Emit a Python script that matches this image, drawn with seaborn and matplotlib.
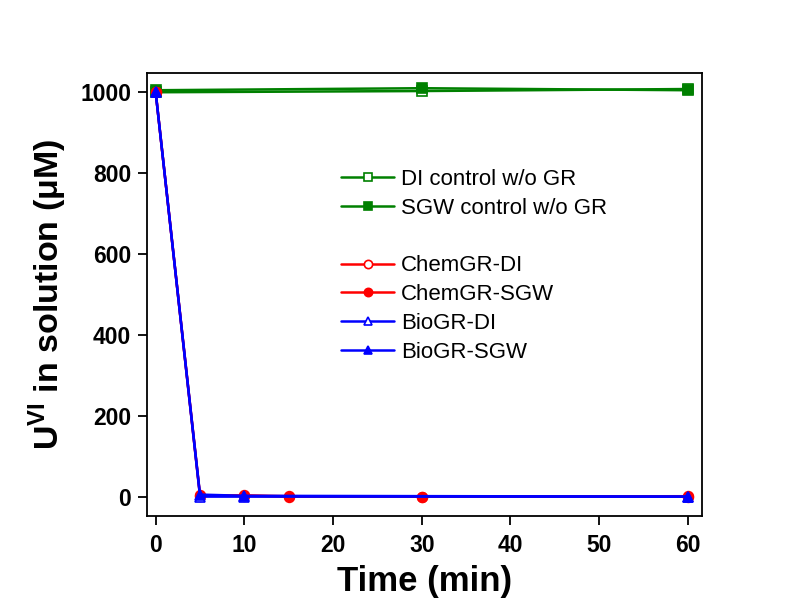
import matplotlib
matplotlib.use("Agg")
import matplotlib.pyplot as plt
from matplotlib.lines import Line2D
import seaborn as sns

# Time points (min) and U(VI) concentrations (µM)
t_ctrl = [0, 30, 60]
di_ctrl = [1000, 1003, 1008]
sgw_ctrl = [1005, 1010, 1005]

t_chem = [0, 5, 10, 15, 30, 60]
chem_di = [1000, 3, 2, 0, 0, 0]
chem_sgw = [1000, 2, 3, 1, 0, 1]

t_bio = [0, 5, 10, 60]
bio_di = [1000, 0, 0, 0]
bio_sgw = [1000, 5, 2, 0]

x_ticks = [0, 10, 20, 30, 40, 50, 60]
y_ticks = [0, 200, 400, 600, 800, 1000]

sns.set_theme(style="ticks")
plt.rcParams["font.family"] = ["Liberation Sans", "DejaVu Sans"]
plt.rcParams["mathtext.fontset"] = "custom"
plt.rcParams["mathtext.rm"] = "Liberation Sans"
plt.rcParams["mathtext.bf"] = "Liberation Sans:bold"
for key in ("text.color", "axes.labelcolor", "xtick.color", "ytick.color",
            "axes.edgecolor"):
    plt.rcParams[key] = "black"

fig = plt.figure(figsize=(7.98, 6.13), dpi=100)
ax = fig.add_axes([0.1842, 0.1582, 0.6955, 0.7227])

green, red, blue = "#008000", "#ff0000", "#0000ff"
lw, ms = 1.8, 7

series = [
    (t_ctrl, di_ctrl, "DI control w/o GR", green, "s", "white"),
    (t_ctrl, sgw_ctrl, "SGW control w/o GR", green, "s", green),
    (t_chem, chem_di, "ChemGR-DI", red, "o", "white"),
    (t_chem, chem_sgw, "ChemGR-SGW", red, "o", red),
    (t_bio, bio_di, "BioGR-DI", blue, "^", "white"),
    (t_bio, bio_sgw, "BioGR-SGW", blue, "^", blue),
]
for x, y, lab, c, m, fc in series:
    sns.lineplot(x=x, y=y, ax=ax, color=c, marker=m, markersize=ms,
                 markerfacecolor=fc, markeredgecolor=c, markeredgewidth=1.2,
                 linewidth=lw, label=lab)

ax.set_xlim(-0.98, 61.6)
ax.set_ylim(-48, 1047.6)
ax.set_xticks(x_ticks)
ax.set_yticks(y_ticks)
ax.tick_params(axis="both", direction="out", length=6.5, width=1.3,
               labelsize=16.5, top=False, right=False)
ax.tick_params(axis="x", pad=6.5)
ax.tick_params(axis="y", pad=5)
for lbl in ax.get_xticklabels() + ax.get_yticklabels():
    lbl.set_fontweight("bold")
for sp in ax.spines.values():
    sp.set_linewidth(1.3)

ax.set_xlabel("Time (min)", fontsize=25, fontweight="bold", labelpad=6)
ax.set_ylabel(r"U$^{\mathbf{VI}}$ in solution (μM)", fontsize=24.5,
              fontweight="bold", labelpad=8)

handles, labels = ax.get_legend_handles_labels()
blank = Line2D([], [], color="none")
handles = handles[:2] + [blank] + handles[2:]
labels = labels[:2] + [""] + labels[2:]
ax.legend(handles, labels, loc="upper left", bbox_to_anchor=(0.3495, 0.783),
          frameon=False, fontsize=16, handlelength=2.4, handletextpad=0.3,
          labelspacing=0.35, borderpad=0, borderaxespad=0, markerscale=0.85)

fig.savefig("out.png", dpi=100)
